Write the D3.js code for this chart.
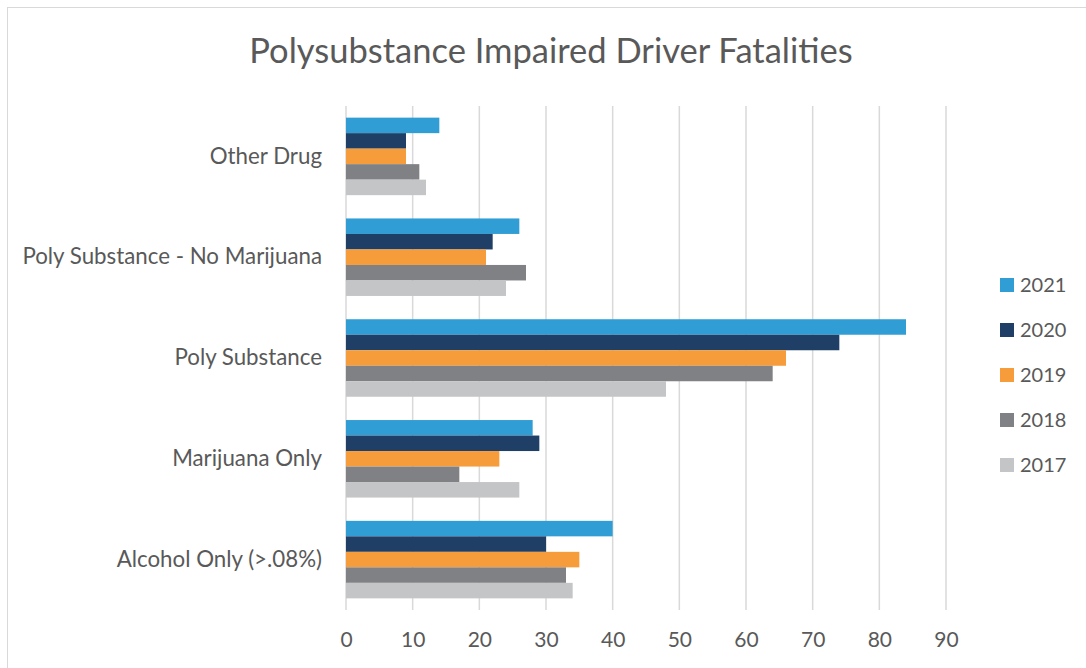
<!DOCTYPE html>
<html><head><meta charset="utf-8">
<script src="https://cdnjs.cloudflare.com/ajax/libs/d3/7.8.5/d3.min.js"></script>
<style>body{margin:0;background:#fff}svg{display:block}text{font-family:Lato,"Open Sans",sans-serif;fill:#595959}</style>
</head><body><svg id="c" width="1086" height="668"></svg>
<script>
const categories = ["Other Drug","Poly Substance - No Marijuana","Poly Substance","Marijuana Only","Alcohol Only (>.08%)"];
const years = ["2021","2020","2019","2018","2017"];
const v2021 = [14,26,84,28,40];
const v2020 = [9,22,74,29,30];
const v2019 = [9,21,66,23,35];
const v2018 = [11,27,64,17,33];
const v2017 = [12,24,48,26,34];
const xTicks = [0,10,20,30,40,50,60,70,80,90];
const colors = ["#319DD5","#1F3F66","#F79C3A","#808184","#C4C5C7"];
const series = [v2021,v2020,v2019,v2018,v2017];

const svg = d3.select("#c");
svg.append("rect").attr("x",7.5).attr("y",7.5).attr("width",1100).attr("height",700)
  .attr("fill","#fff").attr("stroke","#d9d9d9").attr("stroke-width",1);

const x = d3.scaleLinear().domain([0,90]).range([346,946]);
const g = 0.231;
const y = d3.scaleBand().domain(categories).range([106,610]).paddingInner(g).paddingOuter(g/2);
const yi = d3.scaleBand().domain(years).range([0,y.bandwidth()]);
const color = d3.scaleOrdinal().domain(years).range(colors);

// gridlines
svg.append("g").selectAll("line").data(xTicks).join("line")
  .attr("x1",d=>x(d)).attr("x2",d=>x(d)).attr("y1",106).attr("y2",610)
  .attr("stroke","#d9d9d9").attr("stroke-width",1.5);

// bars
const grp = svg.append("g").selectAll("g").data(categories).join("g")
  .attr("transform",c=>`translate(0,${y(c)})`);
grp.selectAll("rect").data((c,ci)=>years.map((yr,k)=>({yr,v:series[k][ci]}))).join("rect")
  .attr("x",x(0)).attr("y",d=>yi(d.yr)).attr("height",yi.bandwidth())
  .attr("width",d=>x(d.v)-x(0)).attr("fill",d=>color(d.yr));

// x axis labels
const xa = svg.append("g").attr("transform","translate(0,610)")
  .call(d3.axisBottom(x).tickValues(xTicks).tickSize(0).tickPadding(22));
xa.select(".domain").remove();
xa.selectAll("text").style("font-size","21px").attr("fill","#595959");

// y axis labels
const ya = svg.append("g").attr("transform","translate(346,0)")
  .call(d3.axisLeft(y).tickSize(0).tickPadding(24));
ya.select(".domain").remove();
ya.selectAll("text").style("font-size","22.3px").attr("fill","#595959");

// title
svg.append("text").attr("x",551).attr("y",63).attr("text-anchor","middle")
  .style("font-size","34.5px").text("Polysubstance Impaired Driver Fatalities");

// legend
const lg = svg.append("g").selectAll("g").data(years).join("g")
  .attr("transform",(d,i)=>`translate(1000,${285+i*45})`);
lg.append("rect").attr("x",0).attr("y",-7).attr("width",14).attr("height",14).attr("fill",d=>color(d));
lg.append("text").attr("x",20).attr("y",7).style("font-size","20px").text(d=>d);
</script></body></html>
